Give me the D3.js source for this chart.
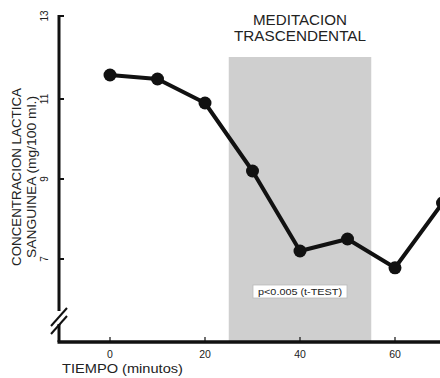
<!DOCTYPE html>
<html lang="es">
<head>
<meta charset="utf-8">
<title>Meditacion trascendental</title>
<script src="https://d3js.org/d3.v7.min.js"></script>
<style>
  body { margin: 0; background: #fff; }
  svg text { font-family: "Liberation Sans", Arial, sans-serif; fill: #222; }
</style>
</head>
<body>
<div id="chart"></div>
<script>
"use strict"

// datos
var tiempos = [0, 10, 20, 30, 40, 50, 60, 70];
var lactato = [11.6, 11.5, 10.9, 9.2, 7.2, 7.5, 6.78, 8.4];
var ticksX = [0, 20, 40, 60];
var ticksY = [7, 9, 11, 13];
var periodo = [25, 55];          // minutos con meditacion
var techoPeriodo = 12.05;
var tituloPeriodo = ["MEDITACION", "TRASCENDENTAL"];
var nota = "p<0.005 (t-TEST)";
var tituloY = ["CONCENTRACION LACTICA", "SANGUINEA (mg/100 ml.)"];
var tituloX = "TIEMPO (minutos)";

var ancho = 440, alto = 378;
var ejeX0 = 59, baseY = 342;

var svg = d3.select("#chart").append("svg")
    .attr("width", ancho).attr("height", alto);

var x = d3.scaleLinear().domain([0, 60]).range([110, 395]);
var y = d3.scaleLinear().domain([7, 11]).range([259, 99]);

// zona sombreada
svg.append("rect")
    .attr("x", x(periodo[0]))
    .attr("y", y(techoPeriodo))
    .attr("width", x(periodo[1]) - x(periodo[0]))
    .attr("height", baseY - y(techoPeriodo) + 1)
    .attr("fill", "#cfcfcf");

svg.selectAll(".tit").data(tituloPeriodo).enter().append("text")
    .attr("x", x(40))
    .attr("y", (d, i) => 25 + i * 16)
    .attr("text-anchor", "middle")
    .attr("font-size", 14)
    .attr("fill", "#333")
    .attr("textLength", (d, i) => i ? 132 : 94)
    .attr("lengthAdjust", "spacingAndGlyphs")
    .text(d => d);

// nota estadistica
svg.append("rect")
    .attr("x", 253).attr("y", 285).attr("width", 94).attr("height", 13)
    .attr("fill", "#fff").attr("stroke", "#bbb").attr("stroke-width", 0.8);
svg.append("text")
    .attr("x", 300).attr("y", 295)
    .attr("text-anchor", "middle")
    .attr("font-size", 9.5)
    .attr("textLength", 84)
    .attr("lengthAdjust", "spacingAndGlyphs")
    .text(nota);

// eje Y (con corte)
svg.append("line").attr("x1", ejeX0).attr("x2", ejeX0)
    .attr("y1", 15).attr("y2", 311)
    .attr("stroke", "#111").attr("stroke-width", 3);
svg.append("line").attr("x1", ejeX0).attr("x2", ejeX0)
    .attr("y1", 324).attr("y2", baseY)
    .attr("stroke", "#111").attr("stroke-width", 3);
[0, 8].forEach(function (dy) {
  svg.append("line")
      .attr("x1", 51).attr("y1", 326 + dy)
      .attr("x2", 67).attr("y2", 308 + dy)
      .attr("stroke", "#111").attr("stroke-width", 2);
});

var ejeY = svg.append("g");
ejeY.selectAll("line").data(ticksY).enter().append("line")
    .attr("x1", ejeX0).attr("x2", ejeX0 + 5)
    .attr("y1", d => d === 13 ? 16 : y(d))
    .attr("y2", d => d === 13 ? 16 : y(d))
    .attr("stroke", "#111").attr("stroke-width", 2);
ejeY.selectAll("text").data(ticksY).enter().append("text")
    .attr("transform", d => "translate(48," + (d === 13 ? 16 : y(d)) + ") rotate(-90)")
    .attr("text-anchor", "middle")
    .attr("font-size", 10)
    .text(d => d);

svg.selectAll(".ty").data(tituloY).enter().append("text")
    .attr("transform", (d, i) => "translate(" + (21 + i * 15) + "," + 177 + ") rotate(-90)")
    .attr("text-anchor", "middle")
    .attr("font-size", 12)
    .attr("textLength", (d, i) => i ? 162 : 178)
    .attr("lengthAdjust", "spacingAndGlyphs")
    .text(d => d);

// eje X
svg.append("line").attr("x1", ejeX0 - 1.5).attr("x2", ancho)
    .attr("y1", baseY).attr("y2", baseY)
    .attr("stroke", "#111").attr("stroke-width", 3.5);
var ejeX = svg.append("g");
ejeX.selectAll("line").data(ticksX).enter().append("line")
    .attr("x1", d => x(d)).attr("x2", d => x(d))
    .attr("y1", baseY - 5).attr("y2", baseY)
    .attr("stroke", "#111").attr("stroke-width", 1.2);
ejeX.selectAll("text").data(ticksX).enter().append("text")
    .attr("x", d => x(d)).attr("y", 358)
    .attr("text-anchor", "middle")
    .attr("font-size", 10.5)
    .text(d => d);
svg.append("text")
    .attr("x", 62).attr("y", 373)
    .attr("font-size", 12)
    .attr("textLength", 121)
    .attr("lengthAdjust", "spacingAndGlyphs")
    .text(tituloX);

// serie
var datos = tiempos.map((t, i) => ({t: t, v: lactato[i]}));
svg.append("path").datum(datos)
    .attr("fill", "none").attr("stroke", "#111").attr("stroke-width", 4)
    .attr("stroke-linejoin", "round")
    .attr("d", d3.line().x(d => x(d.t)).y(d => y(d.v)));
svg.selectAll(".pt").data(datos).enter().append("circle")
    .attr("cx", d => x(d.t)).attr("cy", d => y(d.v))
    .attr("r", 6.5).attr("fill", "#111");
</script>
</body>
</html>
